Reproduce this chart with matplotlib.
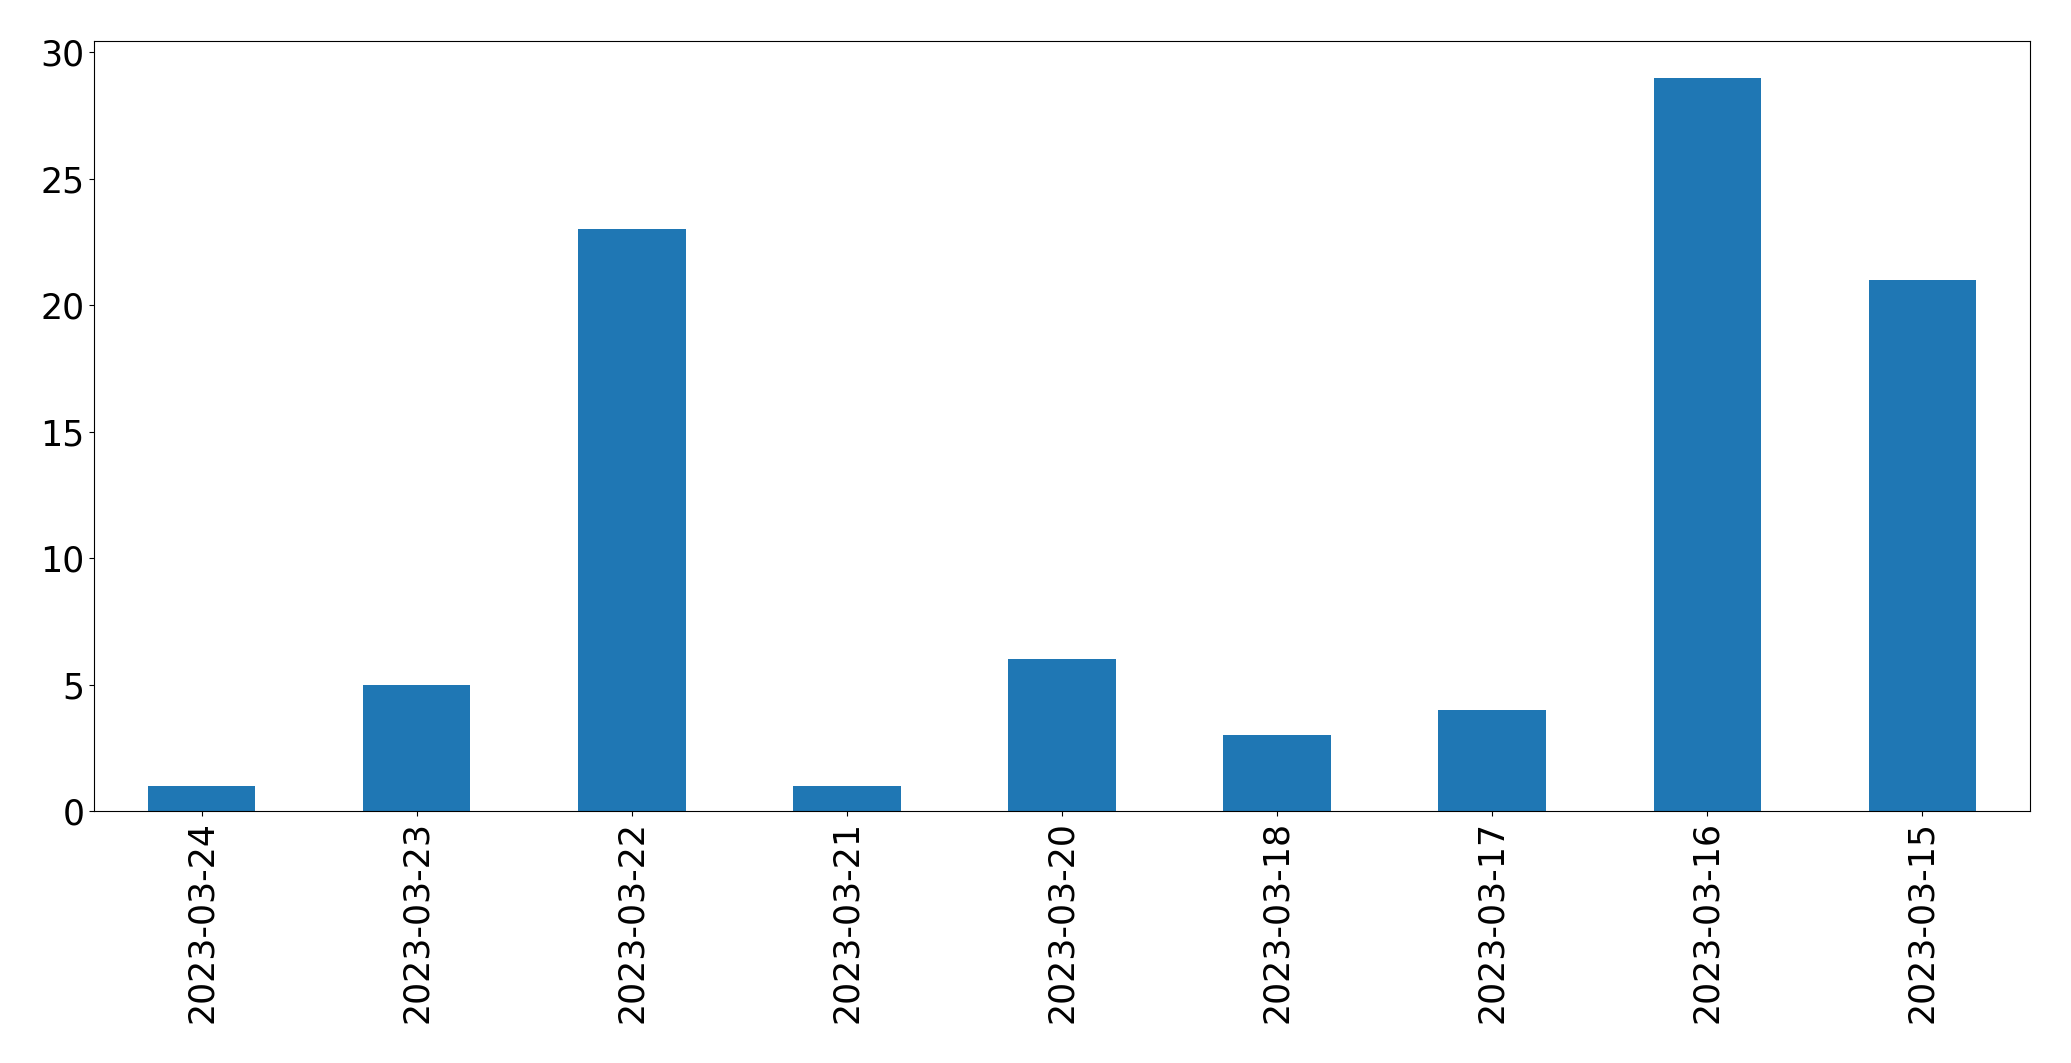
import matplotlib
matplotlib.use("Agg")
import matplotlib.pyplot as plt

dates = ["2023-03-24", "2023-03-23", "2023-03-22", "2023-03-21", "2023-03-20",
         "2023-03-18", "2023-03-17", "2023-03-16", "2023-03-15"]
counts = [1, 5, 23, 1, 6, 3, 4, 29, 21]

W, H = 2071, 1063
fig = plt.figure(figsize=(W / 100, H / 100), dpi=100)
ax = fig.add_axes([94 / W, (H - 811) / H, (2030 - 94) / W, (811 - 41) / H])
x = list(range(len(dates)))
ax.bar(x, counts, width=0.5, color="#1f77b4")
ax.set_xlim(-0.5, len(dates) - 0.5)
ax.set_ylim(0, max(counts) * 1.05)
ax.set_xticks(x)
ax.set_xticklabels(dates, rotation=90)
ax.set_yticks([0, 5, 10, 15, 20, 25, 30])
ax.tick_params(labelsize=25)
fig.savefig("out.png", dpi=100)
